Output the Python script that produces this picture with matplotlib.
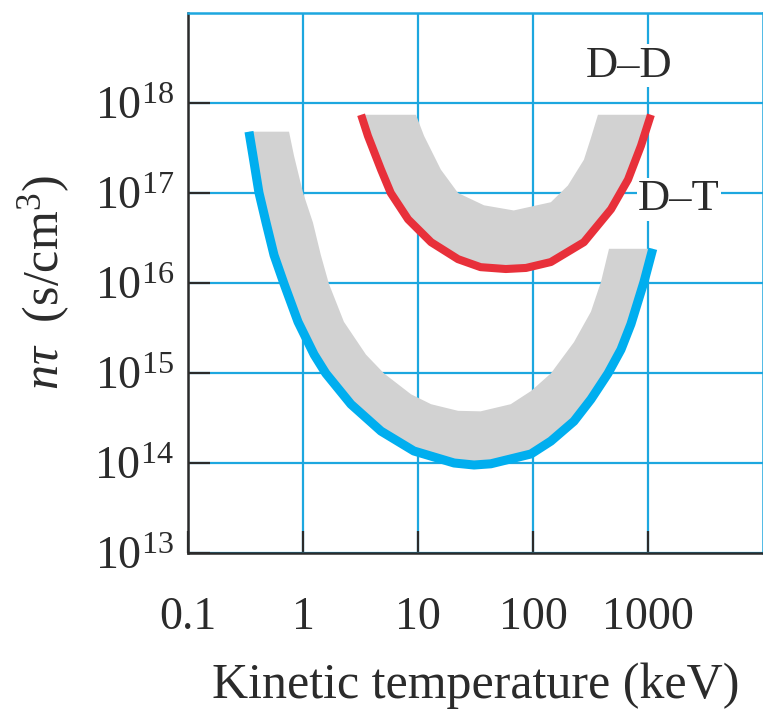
import matplotlib.pyplot as plt
import numpy as np

# D-T ignition curve (blue line) and upper edge of its grey band
dt_T = [0.339, 0.367, 0.414, 0.477, 0.560, 0.684, 0.905, 1.25, 1.58, 2.61, 4.77,
        9.2, 20.6, 30.7, 43, 96, 143, 227, 319, 449, 582, 711, 923, 1100]
dt_nt = [4.8e17, 2.6e17, 1.01e17, 4.7e16, 2.04e16, 9.8e15, 3.7e15, 1.6e15,
         9.9e14, 4.5e14, 2.26e14, 1.36e14, 1.0e14, 9.5e13, 9.8e13, 1.26e14,
         1.75e14, 2.91e14, 5.1e14, 9.9e14, 1.82e15, 3.5e15, 1.03e16, 2.4e16]
dt_band_T = [0.756, 0.835, 1.0, 1.22, 1.43, 1.68, 2.27, 3.53, 5.06, 8.7, 13.0,
             22.3, 35, 64, 96, 143, 227, 319, 390, 458]
dt_band_nt = [4.8e17, 2.6e17, 1.01e17, 4.7e16, 2.04e16, 9.8e15, 3.7e15, 1.6e15,
              9.9e14, 5.8e14, 4.5e14, 3.8e14, 3.75e14, 4.5e14, 6.3e14, 9.9e14,
              2.2e15, 4.8e15, 1.03e16, 2.4e16]

# D-D curve (red line) and upper edge of its grey band
dd_T = [3.2, 3.67, 4.77, 5.8, 8.2, 13.0, 22.3, 35, 58, 87, 143, 277, 477, 670,
        869, 1060]
dd_nt = [7.4e17, 4.3e17, 1.82e17, 1.0e17, 5.1e16, 2.84e16, 1.84e16, 1.5e16,
         1.43e16, 1.47e16, 1.71e16, 2.84e16, 6.6e16, 1.41e17, 3.35e17, 7.4e17]
dd_band_T = [9.6, 11.3, 15.8, 22.3, 37.5, 68, 143, 201, 277, 319, 367]
dd_band_nt = [7.4e17, 4.3e17, 1.82e17, 1.0e17, 7.3e16, 6.4e16, 7.9e16, 1.21e17,
              2.34e17, 4.1e17, 7.4e17]

x_ticks = [0.1, 1, 10, 100, 1000]
x_labels = ["0.1", "1", "10", "100", "1000"]
y_ticks = [1e13, 1e14, 1e15, 1e16, 1e17, 1e18]
y_labels = [r"$10^{%d}$" % e for e in range(13, 19)]

plt.rcParams["font.family"] = ["Liberation Serif", "DejaVu Serif"]
plt.rcParams["mathtext.fontset"] = "custom"
plt.rcParams["mathtext.rm"] = "Liberation Serif"
plt.rcParams["mathtext.it"] = "Liberation Serif:italic"

grid_c = "#1da7df"
blue = "#00aeef"
red = "#e8303a"
grey = "#d2d2d2"
ink = "#2b2b2b"

fig = plt.figure(figsize=(7.63, 7.11), dpi=100)
ax = fig.add_axes([188 / 763, 1 - 553 / 711, 575 / 763, 540 / 711])
ax.set_xscale("log")
ax.set_yscale("log")
ax.set_xlim(0.1, 1e4)
ax.set_ylim(1e13, 1e19)

# grey bands: between each curve and its upper edge
ax.fill(np.r_[dt_T, dt_band_T[::-1]], np.r_[dt_nt, dt_band_nt[::-1]],
        color=grey, lw=0, zorder=2)
ax.fill(np.r_[dd_T, dd_band_T[::-1]], np.r_[dd_nt, dd_band_nt[::-1]],
        color=grey, lw=0, zorder=2)

ax.plot(dt_T, dt_nt, color=blue, lw=6.5, solid_capstyle="butt",
        solid_joinstyle="round", zorder=3)
ax.plot(dd_T, dd_nt, color=red, lw=5.8, solid_capstyle="butt",
        solid_joinstyle="round", zorder=3)

ax.set_xticks(x_ticks)
ax.set_xticklabels(x_labels)
ax.set_yticks(y_ticks)
ax.set_yticklabels(y_labels)
ax.minorticks_off()
ax.tick_params(direction="in", length=16, width=1.6, color=ink,
               labelsize=33, labelcolor=ink)
ax.tick_params(axis="x", pad=31)
ax.tick_params(axis="y", pad=10)

ax.set_axisbelow(True)
ax.grid(True, color=grid_c, lw=1.6)
for s in ["left", "bottom"]:
    ax.spines[s].set_color(ink)
    ax.spines[s].set_linewidth(1.8)
for s in ["top", "right"]:
    ax.spines[s].set_color(grid_c)
    ax.spines[s].set_linewidth(1.8)

ax.text(684, 2.6e18, "D–D", fontsize=32, color=ink, ha="center", va="center",
        zorder=4, bbox=dict(facecolor="white", edgecolor="none", pad=1))
ax.text(1860, 8.5e16, "D–T", fontsize=32, color=ink, ha="center", va="center",
        zorder=4, bbox=dict(facecolor="white", edgecolor="none", pad=1))

ax.set_xlabel("Kinetic temperature (keV)", fontsize=36, color=ink, labelpad=17)
ax.set_ylabel(r"$n\tau$  (s/cm$^3$)", fontsize=36, color=ink, labelpad=16)

fig.savefig("out.png", dpi=100, facecolor="white")
